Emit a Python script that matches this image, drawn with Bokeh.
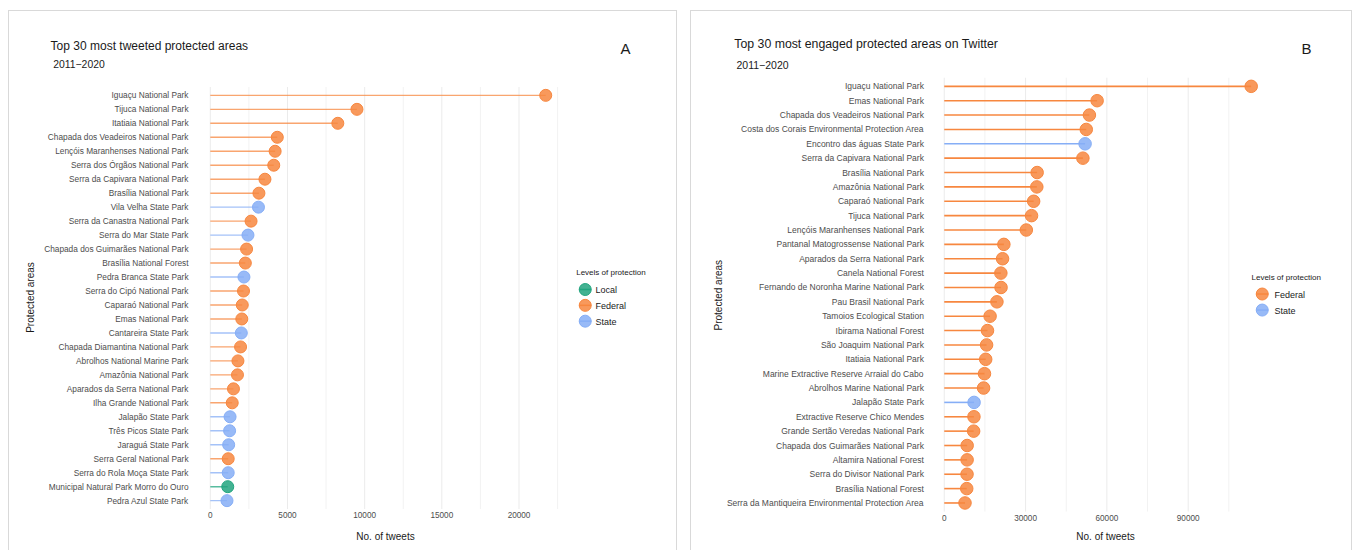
import math
from bokeh.plotting import figure
from bokeh.models import (ColumnDataSource, Range1d, FixedTicker, NumeralTickFormatter, Label)
from bokeh.layouts import row
from bokeh.embed import file_html
from bokeh.resources import INLINE

FONT = "Liberation Sans"

# ---------------- data ----------------
left_areas = ["Iguaçu National Park", "Tijuca National Park", "Itatiaia National Park",
              "Chapada dos Veadeiros National Park", "Lençóis Maranhenses National Park",
              "Serra dos Órgãos National Park", "Serra da Capivara National Park",
              "Brasília National Park", "Vila Velha State Park", "Serra da Canastra National Park",
              "Serra do Mar State Park", "Chapada dos Guimarães National Park",
              "Brasília National Forest", "Pedra Branca State Park", "Serra do Cipó National Park",
              "Caparaó National Park", "Emas National Park", "Cantareira State Park",
              "Chapada Diamantina National Park", "Abrolhos National Marine Park",
              "Amazônia National Park", "Aparados da Serra National Park",
              "Ilha Grande National Park", "Jalapão State Park", "Três Picos State Park",
              "Jaraguá State Park", "Serra Geral National Park", "Serra do Rola Moça State Park",
              "Municipal Natural Park Morro do Ouro", "Pedra Azul State Park"]
left_tweets = [21730, 9500, 8260, 4340, 4200, 4110, 3540, 3150, 3120, 2640,
               2440, 2350, 2270, 2180, 2150, 2070, 2040, 2010, 1960, 1790,
               1760, 1500, 1420, 1280, 1250, 1190, 1160, 1160, 1130, 1080]
left_levels = ["Federal", "Federal", "Federal", "Federal", "Federal", "Federal", "Federal",
               "Federal", "State", "Federal", "State", "Federal", "Federal", "State",
               "Federal", "Federal", "Federal", "State", "Federal", "Federal", "Federal",
               "Federal", "Federal", "State", "State", "State", "Federal", "State",
               "Local", "State"]
left_legend_levels = ["Local", "Federal", "State"]
left_ticks = [0, 5000, 10000, 15000, 20000]
left_grid = [0, 2500, 5000, 7500, 10000, 12500, 15000, 17500, 20000, 22500]

right_areas = ["Iguaçu National Park", "Emas National Park", "Chapada dos Veadeiros National Park",
               "Costa dos Corais Environmental Protection Area", "Encontro das águas State Park",
               "Serra da Capivara National Park", "Brasília National Park",
               "Amazônia National Park", "Caparaó National Park", "Tijuca National Park",
               "Lençóis Maranhenses National Park", "Pantanal Matogrossense National Park",
               "Aparados da Serra National Park", "Canela National Forest",
               "Fernando de Noronha Marine National Park", "Pau Brasil National Park",
               "Tamoios Ecological Station", "Ibirama National Forest",
               "São Joaquim National Park", "Itatiaia National Park",
               "Marine Extractive Reserve Arraial do Cabo", "Abrolhos Marine National Park",
               "Jalapão State Park", "Extractive Reserve Chico Mendes",
               "Grande Sertão Veredas National Park", "Chapada dos Guimarães National Park",
               "Altamira National Forest", "Serra do Divisor National Park",
               "Brasília National Forest", "Serra da Mantiqueira Environmental Protection Area"]
right_engagement = [113250, 56400, 53550, 52400, 51960, 51150, 34270, 34150, 32980, 32200,
                    30270, 21990, 21510, 20880, 20950, 19430, 16910, 15950, 15620, 15290,
                    14840, 14510, 11000, 10950, 10840, 8450, 8430, 8400, 8290, 7650]
right_levels = ["Federal", "Federal", "Federal", "Federal", "State", "Federal", "Federal",
                "Federal", "Federal", "Federal", "Federal", "Federal", "Federal", "Federal",
                "Federal", "Federal", "Federal", "Federal", "Federal", "Federal", "Federal",
                "Federal", "State", "Federal", "Federal", "Federal", "Federal", "Federal",
                "Federal", "Federal"]
right_legend_levels = ["Federal", "State"]
right_ticks = [0, 30000, 60000, 90000]
right_grid = [0, 15000, 30000, 45000, 60000, 75000, 90000, 105000]

level_colors = {"Local": "#22A57F", "Federal": "#F7873F", "State": "#86AEF6"}

FIG_H = 540


def make_panel(areas, vals, levels, legend_levels, ticks, grid, geo, dot_size, seg_alpha,
               seg_width, tick_px, texts, legend_geo):
    # geo: page-pixel layout of this panel
    ox, oy, fig_w, zero_px, px_per_k, top_row_px, row_px, margin = geo
    W = fig_w - 2           # content width (1px border each side)
    H = FIG_H - 1           # content height (top border only)
    n = len(areas)
    x_start = (ox - zero_px) / px_per_k * 1000
    x_end = (ox + W - zero_px) / px_per_k * 1000
    y_end = (n - 1) + (top_row_px - oy) / row_px
    y_start = (n - 1) - (oy + H - top_row_px) / row_px

    def sx(cx):
        return cx - ox

    def sy(cy):
        return (oy + H) - cy

    p = figure(width=fig_w, height=FIG_H, x_range=Range1d(x_start, x_end),
               y_range=Range1d(y_start, y_end), output_backend="svg", toolbar_location=None,
               min_border=0, min_border_left=0, min_border_right=0, min_border_top=0,
               min_border_bottom=0)
    p.extra_x_ranges = {"px": Range1d(0, W)}
    p.extra_y_ranges = {"px": Range1d(0, H)}
    p.margin = margin
    p.styles = {"border": "1px solid #D9D9D9", "border-bottom": "none"}
    p.outline_line_color = None
    p.background_fill_color = "white"
    p.border_fill_color = "white"
    p.xgrid.visible = False
    p.ygrid.visible = False

    ypos = [n - 1 - i for i in range(n)]
    panel_left = -0.05 * max(vals)          # ggplot default expansion
    y_lo, y_hi = -0.6, (n - 1) + 0.6         # discrete-axis expansion

    # vertical grid lines, only over the panel
    major = set(ticks)
    p.segment(x0=grid, y0=[y_lo] * len(grid), x1=grid, y1=[y_hi] * len(grid),
              line_color=["#EBEBEB" if g in major else "#F2F2F2" for g in grid],
              line_width=1)

    # axes drawn at fixed positions inside the canvas
    p.xaxis.fixed_location = y_lo
    p.xaxis.ticker = FixedTicker(ticks=ticks, minor_ticks=[])
    p.xaxis.formatter = NumeralTickFormatter(format="0")
    p.yaxis.fixed_location = panel_left
    p.yaxis.ticker = FixedTicker(ticks=ypos, minor_ticks=[])
    p.yaxis.major_label_overrides = {y: a for y, a in zip(ypos, areas)}
    for ax in (p.xaxis, p.yaxis):
        ax.axis_line_color = None
        ax.major_tick_line_color = None
        ax.minor_tick_line_color = None
        ax.major_tick_out = 0
        ax.major_tick_in = 0
        ax.minor_tick_out = 0
        ax.minor_tick_in = 0
        ax.major_label_text_font = FONT
        ax.major_label_text_color = "#4D4D4D"
    p.xaxis.major_label_text_font_size = "8.2px"
    p.xaxis.major_label_standoff = 3
    p.yaxis.major_label_text_font_size = tick_px
    p.yaxis.major_label_standoff = 5

    for lvl in legend_levels:
        idx = [i for i, l in enumerate(levels) if l == lvl]
        src = ColumnDataSource(dict(y=[ypos[i] for i in idx],
                                    val=[vals[i] for i in idx],
                                    zero=[0] * len(idx)))
        c = level_colors[lvl]
        p.segment(x0="zero", y0="y", x1="val", y1="y", source=src,
                  line_color=c, line_alpha=seg_alpha, line_width=seg_width)
        p.scatter(x="val", y="y", source=src, size=dot_size, marker="circle",
                  fill_color=c, fill_alpha=0.85, line_color=c, line_width=1)

    # legend (keys drawn in pixel space of the canvas)
    title_x, title_y, key_x, first_y, pitch, text_x = legend_geo
    ky = [first_y + k * pitch for k in range(len(legend_levels))]
    kcol = [level_colors[l] for l in legend_levels]
    key_src = ColumnDataSource(dict(x=[sx(key_x)] * len(ky), y=[sy(v) for v in ky], c=kcol))
    p.scatter(x="x", y="y", source=key_src, x_range_name="px", y_range_name="px",
              marker="circle", size=12, fill_color="c", fill_alpha=0.85, line_color="c",
              line_width=1)
    p.scatter(x="x", y="y", source=key_src, x_range_name="px", y_range_name="px",
              marker="dash", size=12, line_color="c", line_width=1.5)
    p.add_layout(Label(x=sx(title_x), y=sy(title_y), x_units="screen", y_units="screen",
                       text="Levels of protection", text_font=FONT, text_font_size="8px",
                       text_color="#1A1A1A", text_baseline="middle", text_align="left"))
    for lvl, yy in zip(legend_levels, ky):
        p.add_layout(Label(x=sx(text_x), y=sy(yy), x_units="screen", y_units="screen",
                           text=lvl, text_font=FONT, text_font_size="9px",
                           text_color="#1A1A1A", text_baseline="middle", text_align="left"))

    for (txt, cx, cy, size, align, angle) in texts:
        p.add_layout(Label(x=sx(cx), y=sy(cy), x_units="screen", y_units="screen", text=txt,
                           text_font=FONT, text_font_size=size, text_color="#1A1A1A",
                           text_baseline="middle", text_align=align, angle=angle))
    return p


# text placements in page pixels
left_texts = [
    ("Top 30 most tweeted protected areas", 50.1, 44.3, "12px", "left", 0),
    ("2011\u22122020", 52.7, 62.7, "10.4px", "left", 0),
    ("A", 620, 47.2, "15px", "left", 0),
    ("No. of tweets", 385, 535, "10px", "center", 0),
    ("Protected areas", 29.6, 296, "10px", "center", math.pi / 2),
]
right_texts = [
    ("Top 30 most engaged protected areas on Twitter", 733.8, 42.7, "12.3px", "left", 0),
    ("2011\u22122020", 736, 63, "10.5px", "left", 0),
    ("B", 1301, 47, "15px", "left", 0),
    ("No. of tweets", 1105, 535, "10px", "center", 0),
    ("Protected areas", 717.5, 293.7, "10px", "center", math.pi / 2),
]

p1 = make_panel(left_areas, left_tweets, left_levels, left_legend_levels,
                left_ticks, left_grid,
                (9, 11, 669, 209.2, 15.39, 94.7, 13.95, (10, 0, 0, 8)),
                12, 0.75, 1.4, "8.3px", left_texts,
                (575.7, 271, 583, 288.5, 15.8, 595))
p2 = make_panel(right_areas, right_engagement, right_levels, right_legend_levels,
                right_ticks, right_grid,
                (691, 11, 662, 943.0, 2.702, 85.7, 14.34, (10, 0, 0, 13)),
                12.5, 1.0, 1.6, "8.5px", right_texts,
                (1251, 275.7, 1260, 293, 16, 1274))

layout = row(p1, p2)
open("out.html", "w").write(file_html(layout, INLINE))
